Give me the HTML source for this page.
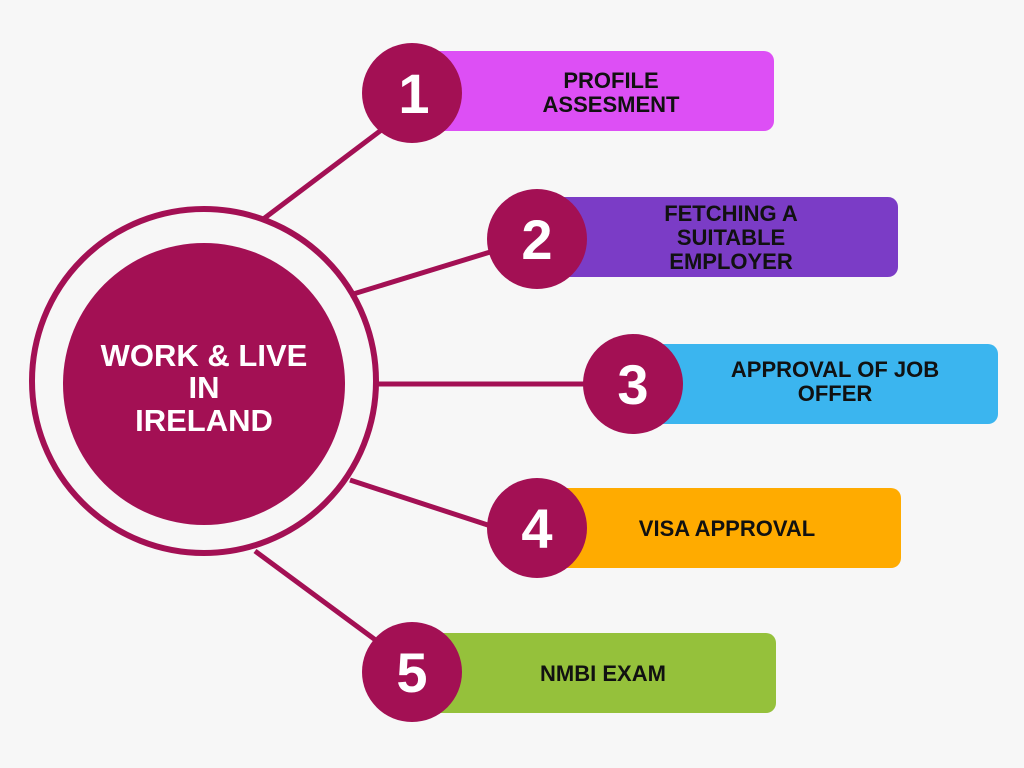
<!DOCTYPE html>
<html><head><style>
body{margin:0;background:#f7f7f7;}
svg{display:block}
text{font-family:"Liberation Sans",sans-serif;font-weight:bold;}
</style></head><body>
<svg width="1024" height="768" viewBox="0 0 1024 768">
<rect width="1024" height="768" fill="#f7f7f7"/>
<g stroke="#a31054" stroke-width="5">
<line x1="262" y1="220" x2="392" y2="122"/>
<line x1="350" y1="295" x2="500" y2="249"/>
<line x1="375" y1="384" x2="590" y2="384"/>
<line x1="350" y1="480" x2="500" y2="529"/>
<line x1="255" y1="551" x2="385" y2="647"/>
</g>
<circle cx="204" cy="381" r="172" fill="none" stroke="#a31054" stroke-width="6"/>
<circle cx="204" cy="384" r="141" fill="#a31054"/>
<g fill="#fff" font-size="31" text-anchor="middle">
<text x="204" y="366">WORK &amp; LIVE</text>
<text x="204" y="398">IN</text>
<text x="204" y="431">IRELAND</text>
</g>
<rect x="430" y="51" width="344" height="80" rx="10" fill="#dd4ff5"/>
<rect x="555" y="197" width="343" height="80" rx="10" fill="#7b3cc6"/>
<rect x="650" y="344" width="348" height="80" rx="10" fill="#3bb5ef"/>
<rect x="555" y="488" width="346" height="80" rx="10" fill="#ffab00"/>
<rect x="430" y="633" width="346" height="80" rx="10" fill="#95c13b"/>
<g fill="#a31054">
<circle cx="412" cy="93" r="50"/>
<circle cx="537" cy="239" r="50"/>
<circle cx="633" cy="384" r="50"/>
<circle cx="537" cy="528" r="50"/>
<circle cx="412" cy="672" r="50"/>
</g>
<g fill="#fff" font-size="56" text-anchor="middle">
<text x="414" y="113">1</text>
<text x="537" y="259">2</text>
<text x="633" y="404">3</text>
<text x="537" y="548">4</text>
<text x="412" y="692">5</text>
</g>
<g fill="#111" font-size="22" text-anchor="middle">
<text x="611" y="88">PROFILE</text>
<text x="611" y="112">ASSESMENT</text>
<text x="731" y="221">FETCHING A</text>
<text x="731" y="245">SUITABLE</text>
<text x="731" y="269">EMPLOYER</text>
<text x="835" y="377">APPROVAL OF JOB</text>
<text x="835" y="401">OFFER</text>
<text x="727" y="536">VISA APPROVAL</text>
<text x="603" y="681">NMBI EXAM</text>
</g>
</svg>
</body></html>
